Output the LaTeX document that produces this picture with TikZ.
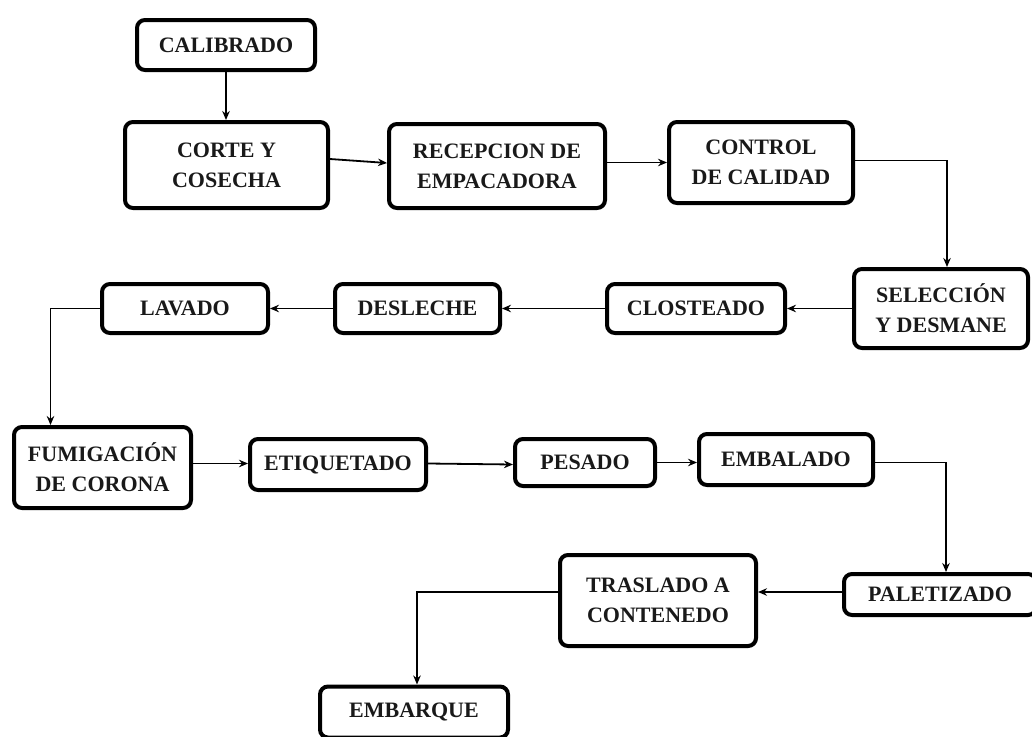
\documentclass[tikz,border=0pt]{standalone}
\usepackage{fontspec}
\setmainfont{Liberation Serif}
\usetikzlibrary{arrows.meta}
\tikzset{
  box/.style={draw, line width=4pt, rounded corners=8pt, align=center, inner sep=0pt,
    font=\bfseries\fontsize{22}{30}\selectfont, text=black!90},
  arr/.style={line width=1.8pt, -{Stealth[length=9pt,width=7.5pt]}}
}
\begin{document}
\begin{tikzpicture}[x=1pt,y=-1pt]
\useasboundingbox[fill=white] (0,0) rectangle (1032,736);
\node[box, minimum width=178pt, minimum height=50pt] (cal) at (226,45) {CALIBRADO};
\node[box, minimum width=203pt, minimum height=86pt] (corte) at (226.5,165) {CORTE Y\\COSECHA};
\node[box, minimum width=216pt, minimum height=84pt] (recep) at (497,166) {RECEPCION DE\\EMPACADORA};
\node[box, minimum width=184pt, minimum height=81pt] (control) at (761,162.5) {CONTROL\\DE CALIDAD};
\node[box, minimum width=174pt, minimum height=79pt] (selec) at (941,308.5) {SELECCIÓN\\Y DESMANE};
\node[box, minimum width=178pt, minimum height=49pt] (clost) at (696,308.5) {CLOSTEADO};
\node[box, minimum width=165pt, minimum height=49pt] (desl) at (417.5,308.5) {DESLECHE};
\node[box, minimum width=166pt, minimum height=49pt] (lav) at (185,308.5) {LAVADO};
\node[box, minimum width=177pt, minimum height=81pt] (fum) at (102.5,467.5) {FUMIGACIÓN\\DE CORONA};
\node[box, minimum width=176pt, minimum height=51pt] (etiq) at (338,464.5) {ETIQUETADO};
\node[box, minimum width=140pt, minimum height=47pt] (pes) at (585,462.5) {PESADO};
\node[box, minimum width=174pt, minimum height=51pt] (emb) at (786,459.5) {EMBALADO};
\node[box, minimum width=192pt, minimum height=41pt] (pal) at (940,594.5) {PALETIZADO};
\node[box, minimum width=196pt, minimum height=91pt] (tras) at (658,600.5) {TRASLADO A\\CONTENEDO};
\node[box, minimum width=188pt, minimum height=51pt] (embq) at (414,712) {EMBARQUE};
\draw[arr] (cal.south) -- (cal.south |- corte.north);
\draw[arr] ([yshift=6pt]corte.east) -- ([yshift=3pt]recep.west);
\draw[arr] (recep.east |- control.west) -- (control.west);
\draw[arr] ([yshift=2pt]control.east) -| ([xshift=6pt]selec.north);
\draw[arr] (selec.west) -- (clost.east);
\draw[arr] (clost.west) -- (desl.east);
\draw[arr] (desl.west) -- (lav.east);
\draw[arr] (lav.west) -| ([xshift=-52pt]fum.north);
\draw[arr] ([yshift=4pt]fum.east) -- ([yshift=1pt]etiq.west);
\draw[arr] ([yshift=1pt]etiq.east) -- (etiq.east -| pes.west);
\draw[arr] (pes.east) -- (pes.east -| emb.west);
\draw[arr] ([yshift=-3pt]emb.east) -| ([xshift=6pt]pal.north);
\draw[arr] ([yshift=2.5pt]pal.west) -- ([yshift=2.5pt]pal.west -| tras.east);
\draw[arr] ([yshift=8.5pt]tras.west) -| ([xshift=3pt]embq.north);
\end{tikzpicture}
\end{document}
